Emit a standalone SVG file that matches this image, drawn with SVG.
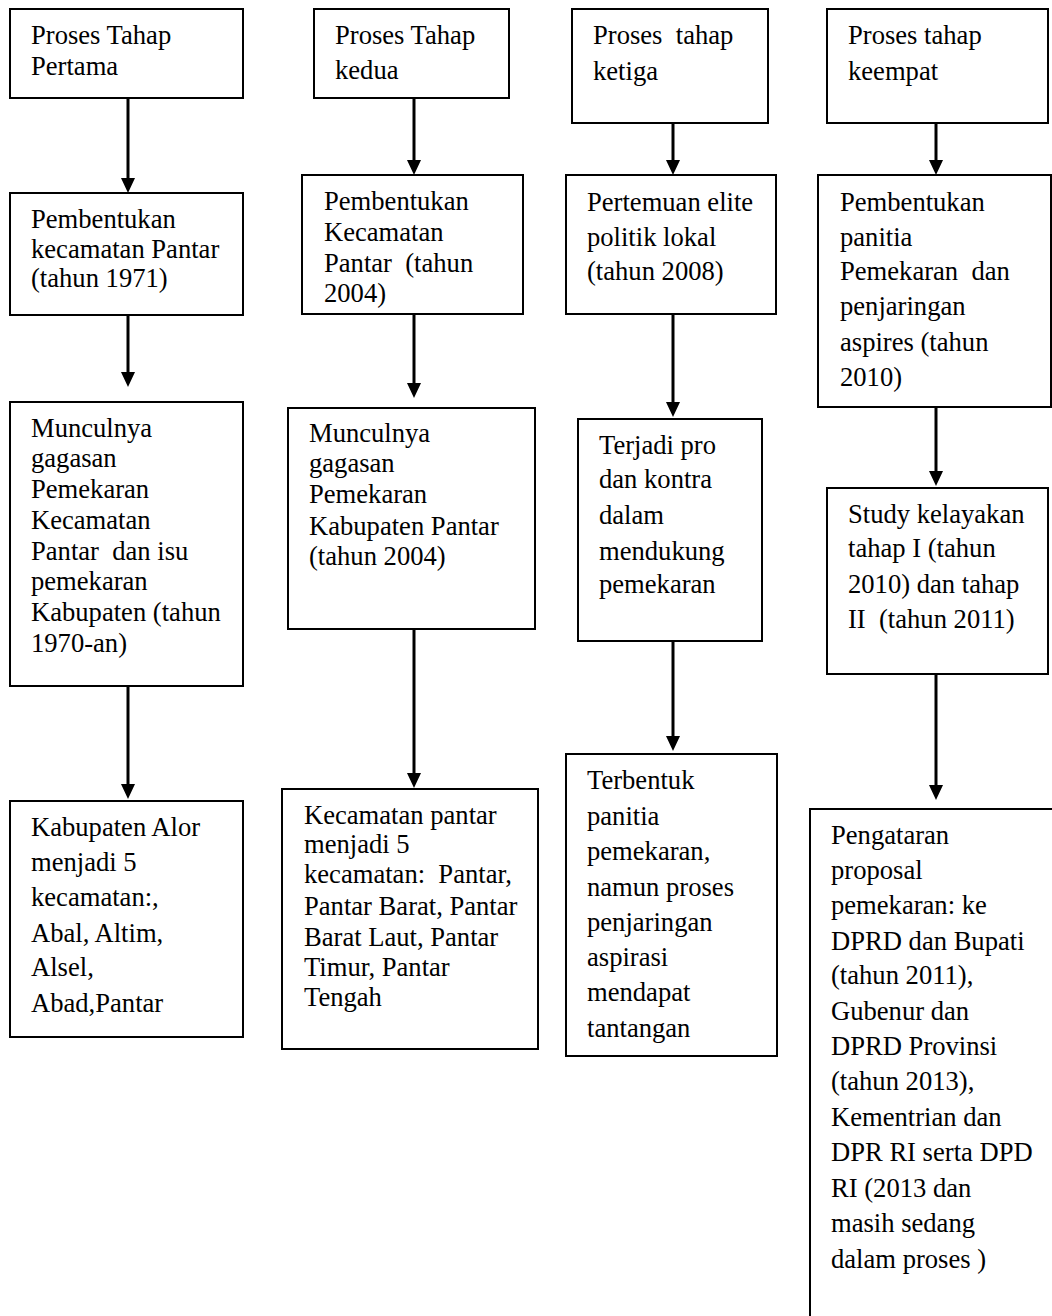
<svg xmlns="http://www.w3.org/2000/svg" width="1052" height="1316" viewBox="0 0 1052 1316">
<style>
.box{fill:#fff;stroke:#000;stroke-width:2}
.open{fill:none;stroke:#000;stroke-width:2}
.t{font-family:"Liberation Serif","Times New Roman",serif;font-size:26.6px;fill:#000;white-space:pre}
.c{stroke:#000;stroke-width:3;fill:none;marker-end:url(#ah)}
</style>
<defs>
<marker id="ah" markerUnits="userSpaceOnUse" markerWidth="15" markerHeight="14" refX="5" refY="7" orient="auto">
<path d="M0,0 L15,7 L0,14 z" fill="#000"/>
</marker>
</defs>
<rect width="1052" height="1316" fill="#fff"/>
<g id="connectors">
<line class="c" x1="128" y1="98" x2="128" y2="183"/>
<line class="c" x1="128" y1="315" x2="128" y2="377"/>
<line class="c" x1="128" y1="686" x2="128" y2="789"/>
<line class="c" x1="414" y1="98" x2="414" y2="165"/>
<line class="c" x1="414" y1="314" x2="414" y2="388"/>
<line class="c" x1="414" y1="629" x2="414" y2="778"/>
<line class="c" x1="673" y1="123" x2="673" y2="165"/>
<line class="c" x1="673" y1="312" x2="673" y2="407"/>
<line class="c" x1="673" y1="641" x2="673" y2="741"/>
<line class="c" x1="936" y1="123" x2="936" y2="165"/>
<line class="c" x1="936" y1="407" x2="936" y2="476"/>
<line class="c" x1="936" y1="674" x2="936" y2="790"/>
</g>
<g id="a1"><rect class="box" x="10" y="9" width="233" height="89"/>
<text class="t" x="31" y="44">Proses Tahap</text><text class="t" x="31" y="75">Pertama</text></g>
<g id="a2"><rect class="box" x="10" y="193" width="233" height="122"/>
<text class="t" x="31" y="228">Pembentukan</text><text class="t" x="31" y="258">kecamatan Pantar</text><text class="t" x="31" y="287">(tahun 1971)</text></g>
<g id="a3"><rect class="box" x="10" y="402" width="233" height="284"/>
<text class="t" x="31" y="437">Munculnya</text><text class="t" x="31" y="467">gagasan</text><text class="t" x="31" y="498">Pemekaran</text><text class="t" x="31" y="529">Kecamatan</text><text class="t" x="31" y="560">Pantar  dan isu</text><text class="t" x="31" y="590">pemekaran</text><text class="t" x="31" y="621">Kabupaten (tahun</text><text class="t" x="31" y="652">1970-an)</text></g>
<g id="a4"><rect class="box" x="10" y="801" width="233" height="236"/>
<text class="t" x="31" y="836">Kabupaten Alor</text><text class="t" x="31" y="871">menjadi 5</text><text class="t" x="31" y="906">kecamatan:,</text><text class="t" x="31" y="942">Abal, Altim,</text><text class="t" x="31" y="976">Alsel,</text><text class="t" x="31" y="1012">Abad,Pantar</text></g>
<g id="b1"><rect class="box" x="314" y="9" width="195" height="89"/>
<text class="t" x="335" y="44">Proses Tahap</text><text class="t" x="335" y="79">kedua</text></g>
<g id="b2"><rect class="box" x="302" y="175" width="221" height="139"/>
<text class="t" x="324" y="210">Pembentukan</text><text class="t" x="324" y="241">Kecamatan</text><text class="t" x="324" y="272">Pantar  (tahun</text><text class="t" x="324" y="302">2004)</text></g>
<g id="b3"><rect class="box" x="288" y="408" width="247" height="221"/>
<text class="t" x="309" y="442">Munculnya</text><text class="t" x="309" y="472">gagasan</text><text class="t" x="309" y="503">Pemekaran</text><text class="t" x="309" y="535">Kabupaten Pantar</text><text class="t" x="309" y="565">(tahun 2004)</text></g>
<g id="b4"><rect class="box" x="282" y="789" width="256" height="260"/>
<text class="t" x="304" y="824">Kecamatan pantar</text><text class="t" x="304" y="853">menjadi 5</text><text class="t" x="304" y="883">kecamatan:  Pantar,</text><text class="t" x="304" y="915">Pantar Barat, Pantar</text><text class="t" x="304" y="946">Barat Laut, Pantar</text><text class="t" x="304" y="976">Timur, Pantar</text><text class="t" x="304" y="1006">Tengah</text></g>
<g id="c1"><rect class="box" x="572" y="9" width="196" height="114"/>
<text class="t" x="593" y="44">Proses  tahap</text><text class="t" x="593" y="80">ketiga</text></g>
<g id="c2"><rect class="box" x="566" y="175" width="210" height="139"/>
<text class="t" x="587" y="211">Pertemuan elite</text><text class="t" x="587" y="246">politik lokal</text><text class="t" x="587" y="280">(tahun 2008)</text></g>
<g id="c3"><rect class="box" x="578" y="419" width="184" height="222"/>
<text class="t" x="599" y="454">Terjadi pro</text><text class="t" x="599" y="488">dan kontra</text><text class="t" x="599" y="524">dalam</text><text class="t" x="599" y="560">mendukung</text><text class="t" x="599" y="593">pemekaran</text></g>
<g id="c4"><rect class="box" x="566" y="754" width="211" height="302"/>
<text class="t" x="587" y="789">Terbentuk</text><text class="t" x="587" y="825">panitia</text><text class="t" x="587" y="860">pemekaran,</text><text class="t" x="587" y="896">namun proses</text><text class="t" x="587" y="931">penjaringan</text><text class="t" x="587" y="966">aspirasi</text><text class="t" x="587" y="1001">mendapat</text><text class="t" x="587" y="1037">tantangan</text></g>
<g id="d1"><rect class="box" x="827" y="9" width="221" height="114"/>
<text class="t" x="848" y="44">Proses tahap</text><text class="t" x="848" y="80">keempat</text></g>
<g id="d2"><rect class="box" x="818" y="175" width="233" height="232"/>
<text class="t" x="840" y="211">Pembentukan</text><text class="t" x="840" y="246">panitia</text><text class="t" x="840" y="280">Pemekaran  dan</text><text class="t" x="840" y="315">penjaringan</text><text class="t" x="840" y="351">aspires (tahun</text><text class="t" x="840" y="386">2010)</text></g>
<g id="d3"><rect class="box" x="827" y="488" width="221" height="186"/>
<text class="t" x="848" y="523">Study kelayakan</text><text class="t" x="848" y="557">tahap I (tahun</text><text class="t" x="848" y="593">2010) dan tahap</text><text class="t" x="848" y="628">II  (tahun 2011)</text></g>
<g id="d4"><path class="open" d="M1052,809 H810 V1316"/>
<text class="t" x="831" y="844">Pengataran</text><text class="t" x="831" y="879">proposal</text><text class="t" x="831" y="914">pemekaran: ke</text><text class="t" x="831" y="950">DPRD dan Bupati</text><text class="t" x="831" y="984">(tahun 2011),</text><text class="t" x="831" y="1020">Gubenur dan</text><text class="t" x="831" y="1055">DPRD Provinsi</text><text class="t" x="831" y="1090">(tahun 2013),</text><text class="t" x="831" y="1126">Kementrian dan</text><text class="t" x="831" y="1161">DPR RI serta DPD</text><text class="t" x="831" y="1197">RI (2013 dan</text><text class="t" x="831" y="1232">masih sedang</text><text class="t" x="831" y="1268">dalam proses )</text></g>
</svg>
